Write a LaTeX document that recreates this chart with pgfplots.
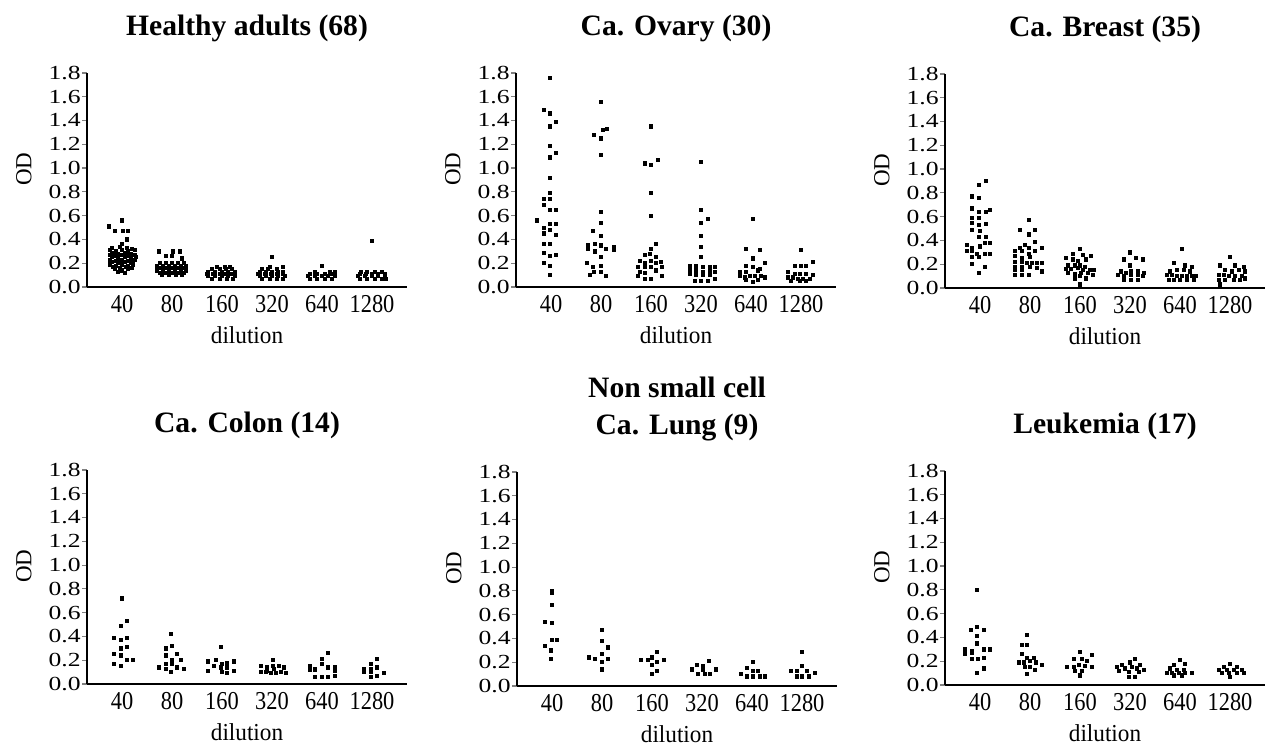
\documentclass[border=0pt]{standalone}
\usepackage{fontspec}
\setmainfont{Liberation Serif}
\usepackage{graphicx}
\usepackage{pgfplots}
\pgfplotsset{compat=1.18}

\newcommand\sy[1]{\scalebox{1}[0.78]{#1}}
\newcommand\sx[1]{\scalebox{1}[1.15]{#1}}

\pgfplotsset{
  panel/.style={
    width=160pt, height=107pt, scale only axis, anchor=south west,
    xmin=0.3, xmax=6.7, ymin=0, ymax=1.8,
    axis lines=left, axis line style={-, line width=0.6pt},
    xtick={1,2,3,4,5,6}, xticklabels={\sx{40},\sx{80},\sx{160},\sx{320},\sx{640},\sx{1280}},
    xtick style={draw=none},
    ytick={0,0.2,0.4,0.6,0.8,1.0,1.2,1.4,1.6,1.8},
    yticklabels={\sy{0.0},\sy{0.2},\sy{0.4},\sy{0.6},\sy{0.8},\sy{1.0},\sy{1.2},\sy{1.4},\sy{1.6},\sy{1.8}},
    tick align=outside, major tick length=2.5pt,
    ytick style={line width=0.6pt},
    /pgf/number format/assume math mode=true,
    xticklabel style={font=\fontsize{11.2}{12}\selectfont, anchor=north, inner sep=0pt, yshift=-1.5pt},
    yticklabel style={font=\fontsize{12.8}{12}\selectfont, anchor=east, inner sep=0.5pt},
    xlabel={\scalebox{1}[1.05]{dilution}}, ylabel={OD},
    every axis x label/.style={at={(axis description cs:0.5,-0.262)}, anchor=base,
      font=\fontsize{11.6}{12}\selectfont, inner sep=0pt},
    every axis y label/.style={at={(axis description cs:-0.197,0.55)}, rotate=90, anchor=center,
      font=\fontsize{11.5}{12}\selectfont, inner sep=0pt},
    every axis title/.style={at={(axis description cs:0.5,1.145)}, anchor=south, inner sep=0pt,
      align=center, font=\bfseries\fontsize{14.8}{18.5}\selectfont},
    clip=false,
  },
  dots/.style={only marks, mark=square*, mark size=0.8pt, black},
}

\begin{document}
\begin{tikzpicture}
\useasboundingbox (0,0) rectangle (634.5pt,373.5pt);

% Healthy adults
\begin{axis}[panel, at={(43.5pt,230pt)}, title={Healthy adults (68)}]
\addplot[dots] coordinates {
(0.73,0.51)(0.99,0.56)(0.85,0.47)(1.02,0.47)(1.12,0.47)(1.10,0.40)(1.00,0.36)
(0.80,0.33)(0.95,0.34)(1.10,0.33)(1.20,0.32)
(0.75,0.31)(0.88,0.30)(1.00,0.31)(1.12,0.30)(1.25,0.31)
(0.80,0.29)(0.92,0.28)(1.05,0.29)(1.18,0.28)
(0.75,0.27)(0.88,0.26)(1.00,0.27)(1.12,0.26)(1.25,0.27)
(0.80,0.25)(0.92,0.24)(1.05,0.25)(1.18,0.24)(1.28,0.25)
(0.75,0.23)(0.88,0.22)(1.00,0.23)(1.12,0.22)(1.25,0.23)
(0.80,0.21)(0.92,0.20)(1.05,0.21)(1.18,0.20)
(0.75,0.19)(0.88,0.18)(1.00,0.19)(1.12,0.18)(1.22,0.19)
(0.82,0.17)(0.95,0.16)(1.08,0.17)(1.20,0.16)
(0.85,0.15)(1.00,0.14)(1.12,0.15)
(0.92,0.13)(1.05,0.12)
(1.74,0.30)(2.02,0.30)(2.15,0.30)(1.88,0.26)(2.00,0.26)(2.20,0.24)
(1.75,0.20)(1.88,0.20)(2.00,0.20)(2.12,0.20)(2.24,0.20)
(1.70,0.18)(1.82,0.18)(1.94,0.18)(2.06,0.18)(2.18,0.18)(2.28,0.18)
(1.75,0.16)(1.88,0.16)(2.00,0.16)(2.12,0.16)(2.24,0.16)
(1.70,0.14)(1.82,0.14)(1.94,0.14)(2.06,0.14)(2.18,0.14)(2.28,0.14)
(1.75,0.12)(1.88,0.12)(2.00,0.12)(2.12,0.12)(2.24,0.12)
(1.80,0.10)(1.94,0.10)(2.08,0.10)(2.20,0.10)
(2.90,0.17)(3.05,0.17)(3.15,0.17)
(2.80,0.15)(2.95,0.15)(3.08,0.15)(3.20,0.15)
(2.72,0.13)(2.85,0.13)(3.00,0.13)(3.12,0.13)(3.25,0.13)
(2.70,0.11)(2.82,0.11)(2.95,0.11)(3.08,0.11)(3.20,0.11)
(2.72,0.09)(2.85,0.09)(3.00,0.09)(3.12,0.09)(3.25,0.09)
(2.80,0.07)(2.95,0.07)(3.10,0.07)(3.22,0.07)
(4.00,0.25)(3.95,0.17)(4.22,0.17)
(3.80,0.15)(3.92,0.15)(4.10,0.15)
(3.75,0.13)(3.88,0.13)(4.00,0.13)(4.12,0.13)(4.22,0.13)
(3.72,0.11)(3.85,0.11)(3.98,0.11)(4.10,0.11)(4.22,0.11)
(3.75,0.09)(3.88,0.09)(4.00,0.09)(4.12,0.09)(4.25,0.09)
(3.80,0.07)(3.95,0.07)(4.10,0.07)(4.22,0.07)
(5.00,0.18)
(4.85,0.13)(5.15,0.13)(5.25,0.13)
(4.75,0.11)(4.90,0.11)(5.05,0.11)(5.20,0.11)
(4.72,0.09)(4.85,0.09)(5.00,0.09)(5.12,0.09)(5.25,0.09)
(4.75,0.07)(4.90,0.07)(5.05,0.07)(5.20,0.07)
(6.00,0.39)
(5.78,0.13)(5.90,0.13)(6.05,0.13)(6.20,0.13)
(5.75,0.11)(5.88,0.11)(6.00,0.11)(6.12,0.11)(6.25,0.11)
(5.72,0.09)(5.85,0.09)(6.00,0.09)(6.12,0.09)(6.25,0.09)
(5.75,0.07)(5.90,0.07)(6.05,0.07)(6.20,0.07)(6.28,0.07)
};
\end{axis}

% Ca. Ovary
\begin{axis}[panel, at={(258pt,230pt)}, title={Ca. Ovary (30)}]
\addplot[dots] coordinates {
(0.98,1.76)(0.85,1.49)(0.98,1.46)(1.10,1.39)(0.98,1.35)(0.98,1.19)(1.10,1.13)(0.98,1.09)
(0.98,0.92)(0.98,0.79)(0.85,0.74)(0.98,0.74)(0.85,0.69)(0.98,0.65)(1.10,0.65)(0.72,0.56)
(0.98,0.53)(1.10,0.53)(0.85,0.50)(0.98,0.48)(0.85,0.45)(1.10,0.44)(0.85,0.36)(0.98,0.36)
(0.85,0.29)(0.98,0.26)(1.10,0.27)(0.85,0.20)(0.98,0.18)(0.98,0.10)
(2.00,1.56)(2.03,1.32)(2.11,1.33)(1.85,1.28)(1.99,1.25)(2.00,1.11)(2.00,0.63)(2.00,0.54)
(1.83,0.47)(2.00,0.43)(1.73,0.35)(1.73,0.32)(1.87,0.36)(2.00,0.35)(2.10,0.32)(2.25,0.34)
(2.00,0.25)(1.72,0.20)(1.83,0.17)(2.00,0.18)(2.00,0.13)(1.85,0.13)(1.77,0.10)(2.10,0.09)
(1.88,0.30)(2.25,0.31)
(3.00,1.35)(2.87,1.04)(3.00,1.03)(3.13,1.07)(3.00,0.79)(3.00,0.60)(3.10,0.36)(3.00,0.32)
(2.87,0.27)(2.97,0.28)(3.10,0.25)(2.77,0.22)(2.87,0.20)(3.00,0.22)(3.10,0.20)(3.20,0.21)
(2.73,0.17)(2.87,0.17)(3.00,0.17)(3.10,0.14)(3.22,0.17)(2.77,0.13)(2.87,0.12)(2.73,0.09)
(2.87,0.07)(3.00,0.07)(3.22,0.09)
(4.00,1.05)(4.00,0.65)(4.00,0.54)(4.13,0.57)(4.00,0.43)(4.00,0.34)(4.00,0.25)(3.77,0.18)
(3.90,0.18)(4.03,0.17)(4.17,0.17)(4.27,0.17)(3.77,0.14)(3.90,0.14)(4.03,0.13)(4.17,0.14)
(4.27,0.13)(3.77,0.11)(3.90,0.10)(4.03,0.10)(4.17,0.10)(3.87,0.05)(4.00,0.05)(4.13,0.05)
(4.27,0.07)
(5.03,0.57)(4.90,0.32)(5.17,0.31)(5.03,0.24)(4.90,0.18)(5.03,0.17)(5.27,0.20)(4.77,0.13)
(4.90,0.13)(5.13,0.14)(5.17,0.15)(4.77,0.09)(4.87,0.08)(4.97,0.09)(5.07,0.09)(5.20,0.09)
(5.27,0.08)(4.90,0.06)(5.03,0.04)(5.13,0.06)
(6.00,0.31)(5.87,0.18)(6.00,0.18)(6.10,0.18)(6.23,0.21)(5.73,0.13)(5.87,0.11)(5.97,0.11)
(6.10,0.11)(6.23,0.10)(5.73,0.08)(5.83,0.08)(5.93,0.07)(6.03,0.07)(6.17,0.07)(5.80,0.05)
(5.97,0.05)(6.10,0.05)
};
\end{axis}

% Ca. Breast
\begin{axis}[panel, at={(472.5pt,229.5pt)}, title={Ca. Breast (35)}]
\addplot[dots] coordinates {
(1.12,0.90)(0.97,0.87)(0.83,0.77)(0.97,0.76)(0.83,0.67)(0.97,0.64)(1.12,0.64)(1.20,0.66)
(0.83,0.59)(0.97,0.59)(0.83,0.55)(0.97,0.53)(1.12,0.54)(0.83,0.49)(1.00,0.48)(0.97,0.43)
(1.12,0.43)(0.73,0.36)(0.83,0.34)(1.00,0.35)(1.10,0.38)(1.20,0.38)(0.73,0.31)(0.83,0.31)
(0.93,0.29)(1.10,0.29)(1.20,0.29)(0.83,0.26)(0.97,0.26)(0.83,0.20)(1.10,0.18)(0.97,0.13)
(1.97,0.57)(1.80,0.49)(2.10,0.49)(1.97,0.45)(2.10,0.39)(1.90,0.36)(1.80,0.34)(1.97,0.34)
(2.23,0.34)(1.70,0.31)(1.83,0.31)(1.97,0.29)(2.10,0.31)(1.70,0.27)(1.83,0.25)(2.00,0.26)
(1.70,0.22)(1.83,0.22)(1.93,0.21)(2.03,0.21)(2.13,0.21)(2.23,0.21)(1.70,0.18)(1.83,0.18)
(2.00,0.18)(2.13,0.17)(1.70,0.15)(1.83,0.15)(2.23,0.14)(1.70,0.11)(1.83,0.11)(1.97,0.11)
(3.00,0.33)(2.85,0.29)(3.05,0.28)(3.22,0.27)(2.72,0.25)(2.85,0.24)(2.95,0.23)(3.12,0.24)
(2.75,0.19)(2.89,0.19)(2.99,0.19)(3.09,0.18)(2.72,0.16)(2.82,0.16)(2.95,0.17)(3.05,0.15)
(3.19,0.15)(3.27,0.15)(2.75,0.13)(2.89,0.12)(3.02,0.13)(3.15,0.13)(3.25,0.11)(2.89,0.08)
(2.99,0.10)(3.12,0.08)(2.99,0.03)
(4.00,0.30)(3.88,0.24)(4.11,0.25)(4.25,0.24)(4.00,0.19)(3.81,0.14)(3.91,0.13)(4.01,0.14)
(4.15,0.14)(4.28,0.13)(3.75,0.11)(3.88,0.10)(4.01,0.11)(4.15,0.11)(4.25,0.10)(3.88,0.07)
(4.01,0.07)(4.15,0.07)
(5.03,0.33)(4.87,0.21)(5.10,0.19)(5.23,0.18)(4.80,0.14)(4.93,0.15)(5.07,0.15)(5.20,0.14)
(4.73,0.11)(4.83,0.11)(4.93,0.10)(5.03,0.10)(5.13,0.10)(5.23,0.10)(5.31,0.10)(4.77,0.07)
(4.87,0.07)(5.00,0.07)(5.13,0.07)(5.27,0.07)
(6.00,0.26)(5.80,0.19)(6.10,0.19)(6.27,0.18)(5.90,0.15)(6.03,0.14)(6.17,0.15)(6.30,0.14)
(5.77,0.11)(5.87,0.11)(5.97,0.10)(6.10,0.10)(6.23,0.10)(5.77,0.07)(5.90,0.07)(6.07,0.07)
(6.20,0.07)(6.30,0.08)(5.80,0.03)
};
\end{axis}

% Ca. Colon
\begin{axis}[panel, at={(43.5pt,31.5pt)}, title={Ca. Colon (14)}]
\addplot[dots] coordinates {
(1.00,0.72)(1.10,0.53)(0.98,0.49)(0.83,0.39)(0.98,0.37)(1.10,0.39)(0.98,0.30)(1.10,0.31)
(0.83,0.25)(0.98,0.24)(0.83,0.17)(0.98,0.15)(1.10,0.20)(1.22,0.20)
(1.98,0.42)(1.87,0.30)(2.00,0.32)(1.87,0.24)(2.10,0.25)(2.00,0.20)(2.17,0.20)(1.87,0.17)
(1.73,0.14)(1.87,0.13)(2.00,0.17)(2.10,0.14)(2.23,0.13)(1.98,0.10)
(2.97,0.31)(2.71,0.19)(2.87,0.20)(3.00,0.17)(3.10,0.18)(3.23,0.19)(2.83,0.15)(2.97,0.14)
(3.10,0.14)(2.71,0.11)(3.00,0.10)(3.10,0.09)(3.23,0.11)
(4.01,0.20)(3.77,0.15)(3.90,0.14)(4.01,0.15)(4.13,0.15)(4.23,0.14)(3.77,0.10)(3.87,0.10)
(3.97,0.09)(4.07,0.09)(4.17,0.10)(4.27,0.09)(4.03,0.13)(3.90,0.11)
(5.12,0.26)(5.00,0.21)(4.75,0.15)(4.85,0.13)(5.00,0.17)(5.12,0.14)(5.25,0.14)(4.75,0.12)
(4.85,0.12)(5.25,0.11)(4.85,0.06)(4.99,0.06)(5.12,0.06)(5.25,0.07)
(6.10,0.21)(5.98,0.17)(5.83,0.13)(6.10,0.14)(5.98,0.13)(5.83,0.10)(5.98,0.10)(6.23,0.09)
(5.98,0.06)(6.10,0.07)
};
\end{axis}

% Non small cell Ca. Lung
\begin{axis}[panel, at={(258.5pt,30.5pt)}, title={Non small cell\\Ca. Lung (9)}]
\addplot[dots] coordinates {
(1.00,0.80)(1.00,0.78)(1.00,0.68)(0.85,0.54)(1.00,0.53)(1.00,0.39)(1.10,0.39)(0.85,0.34)
(0.98,0.30)(0.98,0.23)
(2.00,0.47)(2.00,0.38)(2.12,0.33)(2.12,0.32)(2.00,0.27)(1.73,0.24)(1.85,0.23)(2.12,0.23)
(2.00,0.20)(2.00,0.14)
(3.10,0.29)(3.00,0.24)(2.91,0.22)(3.23,0.22)(2.77,0.22)(3.10,0.20)(3.00,0.18)(3.10,0.13)
(3.00,0.10)
(4.13,0.21)(3.89,0.18)(4.02,0.17)(3.79,0.14)(4.02,0.14)(4.27,0.14)(3.92,0.10)(4.05,0.10)
(4.15,0.10)
(5.01,0.20)(4.90,0.15)(5.01,0.13)(5.11,0.13)(4.78,0.10)(4.90,0.08)(5.01,0.08)(5.15,0.08)
(5.25,0.08)
(6.00,0.29)(6.00,0.17)(5.77,0.13)(5.90,0.13)(6.10,0.13)(6.25,0.11)(5.89,0.08)(6.00,0.08)
(6.13,0.08)
};
\end{axis}

% Leukemia
\begin{axis}[panel, at={(472.5pt,31pt)}, title={Leukemia (17)}]
\addplot[dots] coordinates {
(0.93,0.80)(0.93,0.49)(0.81,0.46)(1.07,0.46)(0.93,0.41)(0.93,0.35)(0.70,0.30)(0.83,0.29)
(1.07,0.30)(1.20,0.30)(0.70,0.26)(0.83,0.22)(0.95,0.22)(1.07,0.23)(1.07,0.14)(0.93,0.10)
(0.83,0.27)
(1.93,0.42)(1.83,0.34)(1.93,0.34)(1.83,0.26)(1.93,0.23)(2.07,0.23)(1.77,0.19)(1.87,0.19)
(2.00,0.20)(2.12,0.19)(2.23,0.17)(1.90,0.15)(2.00,0.15)(2.10,0.13)(1.93,0.09)
(3.00,0.28)(3.23,0.25)(2.87,0.22)(3.03,0.22)(3.13,0.20)(2.73,0.15)(2.87,0.15)(2.97,0.17)
(3.10,0.16)(3.23,0.15)(2.90,0.12)(3.03,0.12)(3.00,0.08)
(4.10,0.22)(4.00,0.19)(3.83,0.17)(4.20,0.17)(3.73,0.15)(3.90,0.14)(4.03,0.15)(4.13,0.14)
(4.27,0.13)(3.77,0.12)(3.97,0.11)(4.17,0.11)(3.97,0.07)(4.10,0.07)
(5.00,0.21)(4.87,0.17)(5.10,0.18)(4.80,0.14)(4.93,0.13)(5.07,0.13)(4.73,0.10)(4.83,0.10)
(4.97,0.10)(5.10,0.10)(5.23,0.10)(4.87,0.08)(5.03,0.08)
(6.00,0.18)(5.87,0.15)(6.13,0.15)(5.77,0.13)(5.93,0.13)(6.07,0.13)(6.23,0.13)(5.83,0.10)
(5.97,0.10)(6.13,0.10)(6.27,0.10)(6.00,0.07)
};
\end{axis}
\end{tikzpicture}
\end{document}
